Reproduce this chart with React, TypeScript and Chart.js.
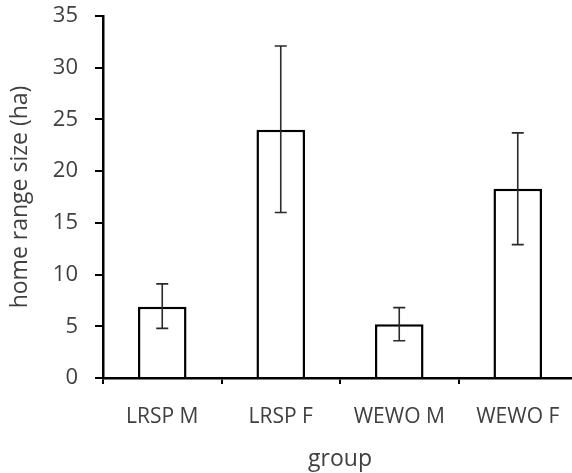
import React, { useEffect, useRef } from "react";
import { Chart, registerables } from "chart.js";

Chart.register(...registerables);

const categories = ["LRSP M", "LRSP F", "WEWO M", "WEWO F"];
const means = [6.9, 24.0, 5.2, 18.3];
const errLow = [4.8, 16.0, 3.6, 12.9];
const errHigh = [9.1, 32.1, 6.8, 23.7];
const yTicks = [0, 5, 10, 15, 20, 25, 30, 35];

const FONT = "'Open Sans', 'Liberation Sans', sans-serif";
const TEXT = "#404040";

const errorBarPlugin = {
  id: "errorBars",
  afterDatasetsDraw(chart: any) {
    const ctx = chart.ctx;
    const meta = chart.getDatasetMeta(0);
    const y = chart.scales.y;
    ctx.save();
    ctx.strokeStyle = "#2a2a2a";
    ctx.lineWidth = 1.6;
    meta.data.forEach((bar: any, i: number) => {
      const x = bar.x;
      const yl = y.getPixelForValue(errLow[i]);
      const yh = y.getPixelForValue(errHigh[i]);
      ctx.beginPath();
      ctx.moveTo(x, yl);
      ctx.lineTo(x, yh);
      ctx.moveTo(x - 6, yl);
      ctx.lineTo(x + 6, yl);
      ctx.moveTo(x - 6, yh);
      ctx.lineTo(x + 6, yh);
      ctx.stroke();
    });
    ctx.restore();
  },
};

export default function App() {
  const ref = useRef<HTMLCanvasElement>(null);
  useEffect(() => {
    if (!ref.current) return;
    const chart = new Chart(ref.current, {
      type: "bar",
      data: {
        labels: categories,
        datasets: [
          {
            data: means,
            backgroundColor: "#ffffff",
            borderColor: "#000000",
            borderWidth: 2.5,
            borderSkipped: "bottom",
            barPercentage: 0.41,
            categoryPercentage: 1,
          },
        ],
      },
      options: {
        animation: false,
        responsive: false,
        devicePixelRatio: 1,
        layout: { padding: { top: 0, right: 23, left: 0, bottom: 0 } },
        plugins: { legend: { display: false }, tooltip: { enabled: false } },
        scales: {
          x: {
            grid: {
              drawOnChartArea: false,
              drawTicks: true,
              tickLength: 6,
              color: "#000",
              lineWidth: 2,
              offset: true,
            },
            border: { display: true, color: "#000", width: 2.5 },
            ticks: {
              color: TEXT,
              font: { family: FONT, size: 21 },
              padding: 20,
              maxRotation: 0,
            },
            title: {
              display: true,
              text: "group",
              color: TEXT,
              font: { family: FONT, size: 23 },
              padding: { top: 0, bottom: 0 },
            },
            afterFit: (s: any) => {
              s.height = 95;
              s.paddingLeft = 0;
              s.paddingRight = 0;
            },
          },
          y: {
            min: 0,
            max: 35,
            afterBuildTicks: (s: any) => {
              s.ticks = yTicks.map((v) => ({ value: v }));
            },
            grid: {
              drawOnChartArea: false,
              drawTicks: true,
              tickLength: 8,
              color: "#000",
              lineWidth: 2,
            },
            border: { display: true, color: "#000", width: 2.5 },
            ticks: {
              color: TEXT,
              font: { family: FONT, size: 22 },
              padding: 17,
            },
            title: {
              display: true,
              text: "home range size (ha)",
              color: TEXT,
              font: { family: FONT, size: 23 },
              padding: { top: 7, bottom: 0 },
            },
            afterFit: (s: any) => {
              s.width = 103;
              s.paddingTop = 16;
              s.paddingBottom = 0;
            },
          },
        },
      },
      plugins: [errorBarPlugin],
    });
    return () => chart.destroy();
  }, []);
  return (
    <div
      style={{
        position: "absolute",
        left: 0,
        top: 0,
        width: 572,
        height: 473,
        overflow: "hidden",
        background: "#fff",
      }}
    >
      <canvas ref={ref} width={600} height={473} style={{ display: "block" }} />
    </div>
  );
}
